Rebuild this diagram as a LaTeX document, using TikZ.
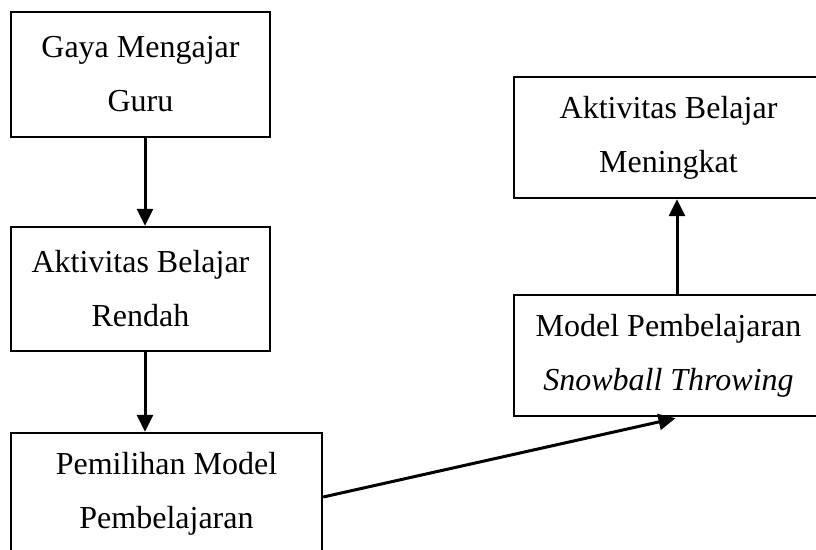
\documentclass[tikz,border=0pt]{standalone}
\usepackage{fontspec}
\setmainfont{Liberation Serif}
\usetikzlibrary{arrows.meta}
\tikzset{
  box/.style={draw=black, line width=2.4pt, rectangle, inner sep=0pt, align=center,
    font=\fontsize{32}{54}\selectfont},
  arr/.style={draw=black, line width=3pt, -{Triangle[length=17pt,width=16pt]}}
}
\begin{document}
\begin{tikzpicture}[x=1pt,y=-1pt]
\clip (0,0) rectangle (816,549);
\fill[white] (0,0) rectangle (816,549);
\node[box, minimum width=259pt, minimum height=125pt] (b1) at (140.5,74.5) {Gaya Mengajar\\Guru};
\node[box, minimum width=259pt, minimum height=124pt] (b2) at (140.5,289) {Aktivitas Belajar\\Rendah};
\node[box, minimum width=311pt, minimum height=122pt] (b3) at (166.5,494) {Pemilihan Model\\Pembelajaran};
\node[box, minimum width=309pt, minimum height=121pt] (b4) at (668.5,355.5) {Model Pembelajaran\\\textit{Snowball Throwing}};
\node[box, minimum width=309pt, minimum height=121pt] (b5) at (668.5,137.5) {Aktivitas Belajar\\Meningkat};
\draw[arr] ([xshift=4.5pt]b1.south) -- ([xshift=4.5pt]b2.north);
\draw[arr] ([xshift=4.5pt]b2.south) -- ([xshift=4.5pt]b2.south |- b3.north);
\draw[arr] ([xshift=8.5pt]b4.north) -- ([xshift=8.5pt]b5.south);
\draw[arr] ([yshift=-3pt]b3.east) -- ([xshift=7pt,yshift=-1pt]b4.south);
\end{tikzpicture}
\end{document}
